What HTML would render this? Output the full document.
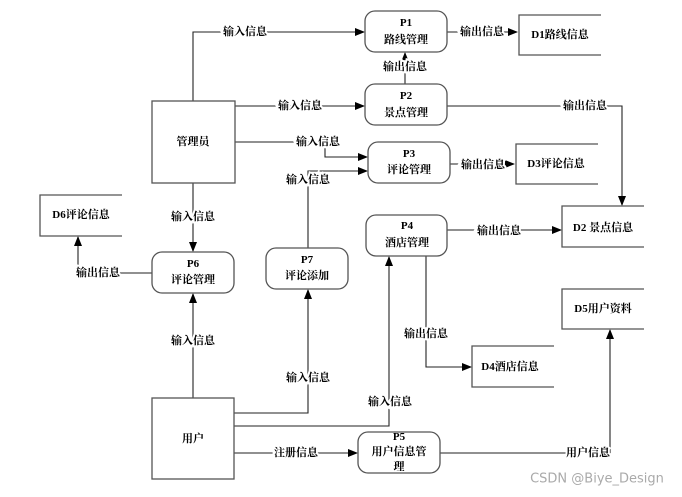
<!DOCTYPE html>
<html><head><meta charset="utf-8"><style>
html,body{margin:0;padding:0;background:#fff;}
svg{display:block;}
text{font-family:"Liberation Serif","Noto Serif CJK SC","Noto Sans CJK SC",serif;font-size:11px;font-weight:bold;fill:#000;text-anchor:middle;dominant-baseline:central;}
.lbl{paint-order:stroke;stroke:#fff;stroke-width:4px;}
.b{fill:#fff;stroke:#555;stroke-width:1.3;}
.l{fill:none;stroke:#222;stroke-width:1.1;}
</style></head><body>
<svg width="682" height="497" viewBox="0 0 682 497" xmlns="http://www.w3.org/2000/svg">
<defs><marker id="a" markerWidth="10" markerHeight="8" refX="9" refY="4" orient="auto" markerUnits="userSpaceOnUse"><path d="M0,0 L10,4 L0,8 z" fill="#000"/></marker></defs>

<path class="l" d="M193,101 V32 H364" marker-end="url(#a)"/>
<path class="l" d="M447,32 H517" marker-end="url(#a)"/>
<path class="l" d="M405,84 V53" marker-end="url(#a)"/>
<path class="l" d="M235,106 H364" marker-end="url(#a)"/>
<path class="l" d="M447,106 H622 V205" marker-end="url(#a)"/>
<path class="l" d="M235,142 H325 V157 H367" marker-end="url(#a)"/>
<path class="l" d="M308,248 V171 H367" marker-end="url(#a)"/>
<path class="l" d="M450,164 H514" marker-end="url(#a)"/>
<path class="l" d="M193,183 V251" marker-end="url(#a)"/>
<path class="l" d="M152,273 H78 V237" marker-end="url(#a)"/>
<path class="l" d="M193,398 V294" marker-end="url(#a)"/>
<path class="l" d="M234,413 H308 V290" marker-end="url(#a)"/>
<path class="l" d="M234,426 H389 V257" marker-end="url(#a)"/>
<path class="l" d="M447,230 H561" marker-end="url(#a)"/>
<path class="l" d="M426,256 V367 H471" marker-end="url(#a)"/>
<path class="l" d="M234,453 H357" marker-end="url(#a)"/>
<path class="l" d="M440,453 H610 V330" marker-end="url(#a)"/>

<rect class="b" x="152" y="101" width="83" height="82"/>
<text x="193" y="142">管理员</text>
<rect class="b" x="152" y="398" width="82" height="81"/>
<text x="193" y="439">用户</text>

<rect class="b" x="365" y="11" width="82" height="41" rx="10"/>
<text x="406" y="23">P1</text><text x="406" y="40">路线管理</text>
<rect class="b" x="365" y="84" width="82" height="41" rx="10"/>
<text x="406" y="96">P2</text><text x="406" y="113">景点管理</text>
<rect class="b" x="368" y="142" width="82" height="41" rx="10"/>
<text x="409" y="154">P3</text><text x="409" y="170">评论管理</text>
<rect class="b" x="366" y="215" width="81" height="41" rx="10"/>
<text x="407" y="226">P4</text><text x="407" y="243">酒店管理</text>
<rect class="b" x="358" y="432" width="82" height="41" rx="10"/>
<text x="399" y="437">P5</text><text x="399" y="452">用户信息管</text><text x="399" y="467">理</text>
<rect class="b" x="152" y="252" width="82" height="41" rx="10"/>
<text x="193" y="264">P6</text><text x="193" y="280">评论管理</text>
<rect class="b" x="266" y="248" width="82" height="41" rx="10"/>
<text x="307" y="260">P7</text><text x="307" y="276">评论添加</text>

<g class="b"><path d="M601,15 H519 V55 H601" fill="none"/></g>
<text x="560" y="35">D1路线信息</text>
<g class="b"><path d="M598,144 H516 V184 H598" fill="none"/></g>
<text x="556" y="164">D3评论信息</text>
<g class="b"><path d="M644,206 H562 V247 H644" fill="none"/></g>
<text x="603" y="228">D2 景点信息</text>
<g class="b"><path d="M644,289 H562 V329 H644" fill="none"/></g>
<text x="603" y="309">D5用户资料</text>
<g class="b"><path d="M554,346 H472 V387 H554" fill="none"/></g>
<text x="510" y="367">D4酒店信息</text>
<g class="b"><path d="M122,195 H40 V236 H122" fill="none"/></g>
<text x="81" y="215">D6评论信息</text>

<text class="lbl" x="245" y="32">输入信息</text>
<text class="lbl" x="482" y="32">输出信息</text>
<text class="lbl" x="405" y="67">输出信息</text>
<text class="lbl" x="300" y="106">输入信息</text>
<text class="lbl" x="585" y="106">输出信息</text>
<text class="lbl" x="318" y="142">输入信息</text>
<text class="lbl" x="308" y="180">输入信息</text>
<text class="lbl" x="483" y="165">输出信息</text>
<text class="lbl" x="193" y="217">输入信息</text>
<text class="lbl" x="98" y="273">输出信息</text>
<text class="lbl" x="193" y="341">输入信息</text>
<text class="lbl" x="308" y="378">输入信息</text>
<text class="lbl" x="390" y="402">输入信息</text>
<text class="lbl" x="499" y="231">输出信息</text>
<text class="lbl" x="426" y="334">输出信息</text>
<text class="lbl" x="296" y="453">注册信息</text>
<text class="lbl" x="588" y="453">用户信息</text>

<text x="597" y="479" style="font-family:'DejaVu Sans','Liberation Sans',sans-serif;font-weight:normal;font-size:13px;fill:#aaa;">CSDN @Biye_Design</text>
</svg>
</body></html>
